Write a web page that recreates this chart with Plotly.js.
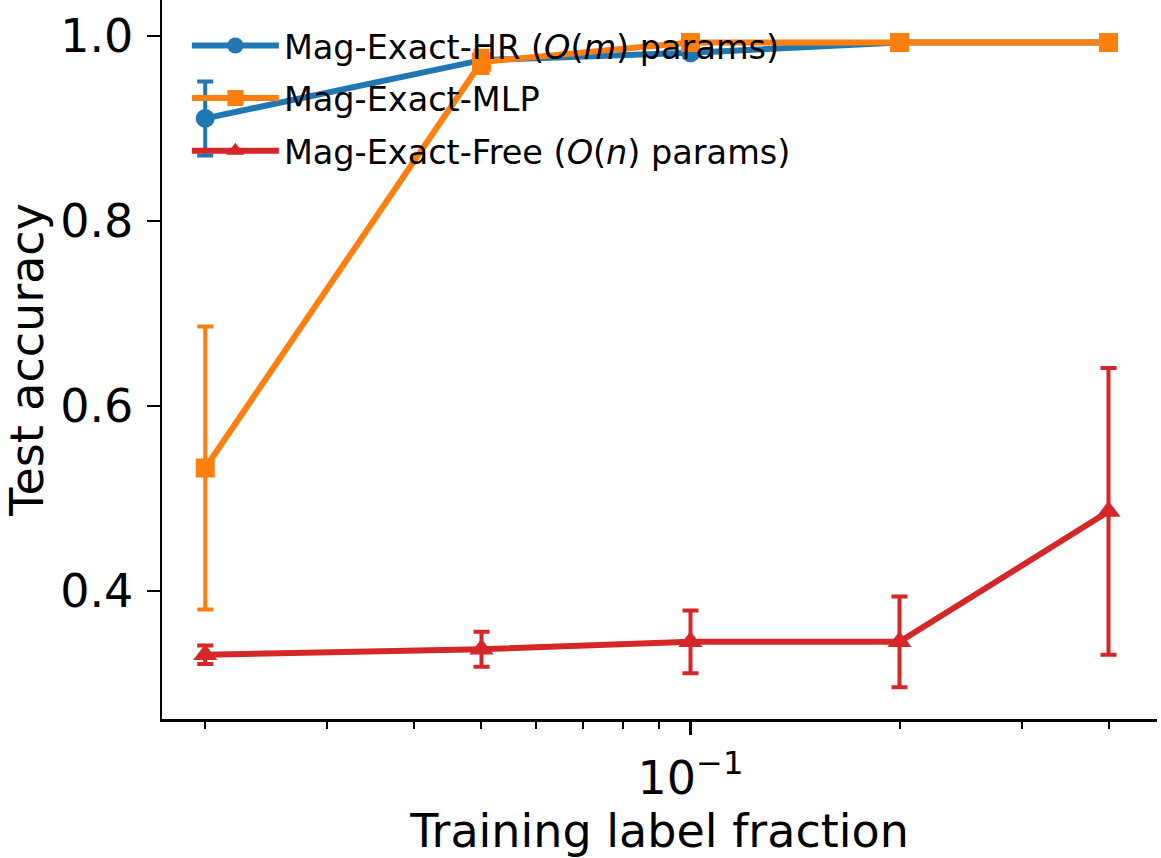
<!DOCTYPE html>
<html><head><meta charset="utf-8">
<script src="https://cdn.plot.ly/plotly-3.0.1.min.js"></script>
<style>html,body{margin:0;padding:0;background:#fff}</style>
</head><body><div id="chart" style="width:1161px;height:858px"></div>
<script>
const fractions = [0.02, 0.05, 0.1, 0.2, 0.4];
const hrAcc = [0.911, 0.974, 0.982, 0.993, 0.993];
const hrErr = [0.040, 0.006, 0.005, 0.002, 0.001];
const mlpAcc = [0.533, 0.972, 0.993, 0.993, 0.993];
const mlpErr = [0.153, 0.012, 0.003, 0.002, 0.001];
const freeAcc = [0.331, 0.337, 0.345, 0.345, 0.486];
const freeErr = [0.010, 0.019, 0.034, 0.049, 0.155];
const seriesNames = [
  'Mag-Exact-HR (<i>O</i>(<i>m</i>) params)',
  'Mag-Exact-MLP',
  'Mag-Exact-Free (<i>O</i>(<i>n</i>) params)'
];
const xTickVals = [0.1];
const xTickText = ['10<sup>−1</sup>'];
const xMinorTicks = [0.02, 0.03, 0.04, 0.05, 0.06, 0.07, 0.08, 0.09, 0.2, 0.3, 0.4];
const yTickVals = [0.4, 0.6, 0.8, 1.0];
const yTickText = ['0.4', '0.6', '0.8', '1.0'];

const colors = ['#1f77b4', '#ff7f0e', '#d62728'];
const symbols = ['circle', 'square', 'triangle-up'];
const sizes = [19, 19, 21];
const accs = [hrAcc, mlpAcc, freeAcc];
const errs = [hrErr, mlpErr, freeErr];

const traces = accs.map((acc, i) => ({
  x: fractions, y: acc, name: seriesNames[i], type: 'scatter', mode: 'lines+markers',
  legendgroup: 'g' + i,
  line: {color: colors[i], width: 6},
  marker: {color: colors[i], symbol: symbols[i], size: sizes[i], line: {width: 0}},
  error_y: {type: 'data', array: errs[i], visible: true, color: colors[i], thickness: 4, width: 8}
}));

const layout = {
  width: 1161, height: 858,
  margin: {l: 162, r: 4, t: 0, b: 139},
  paper_bgcolor: '#fff', plot_bgcolor: '#fff',
  font: {family: 'DejaVu Sans', color: '#000'},
  showlegend: true,
  legend: {x: 0.025, y: 0.976, xanchor: 'left', yanchor: 'top', bgcolor: 'rgba(0,0,0,0)',
           font: {size: 33.5, family: 'DejaVu Sans'}, itemwidth: 87, tracegroupgap: 6, traceorder: 'grouped'},
  xaxis: {
    type: 'log', range: [Math.log10(0.01733), Math.log10(0.4698)],
    tickmode: 'array', tickvals: xTickVals, ticktext: xTickText,
    ticks: 'outside', ticklen: 13, tickwidth: 2.5, tickcolor: '#000',
    showgrid: false, zeroline: false, showline: true, linecolor: '#000', linewidth: 2.5,
    tickfont: {size: 46}, ticklabelstandoff: 4,
    minor: {tickmode: 'array', tickvals: xMinorTicks, ticks: 'outside', ticklen: 7, tickwidth: 2, tickcolor: '#000', showgrid: false},
    title: {text: 'Training label fraction', font: {size: 46}, standoff: 18},
    automargin: false
  },
  yaxis: {
    range: [0.2616, 1.039],
    tickmode: 'array', tickvals: yTickVals, ticktext: yTickText,
    ticks: 'outside', ticklen: 13, tickwidth: 2.5, tickcolor: '#000',
    showgrid: false, zeroline: false, showline: true, linecolor: '#000', linewidth: 2.5,
    tickfont: {size: 46}, ticklabelstandoff: 4,
    title: {text: 'Test accuracy', font: {size: 46}, standoff: 14},
    automargin: false
  }
};
Plotly.newPlot('chart', traces, layout, {displayModeBar: false, staticPlot: true});
</script></body></html>
